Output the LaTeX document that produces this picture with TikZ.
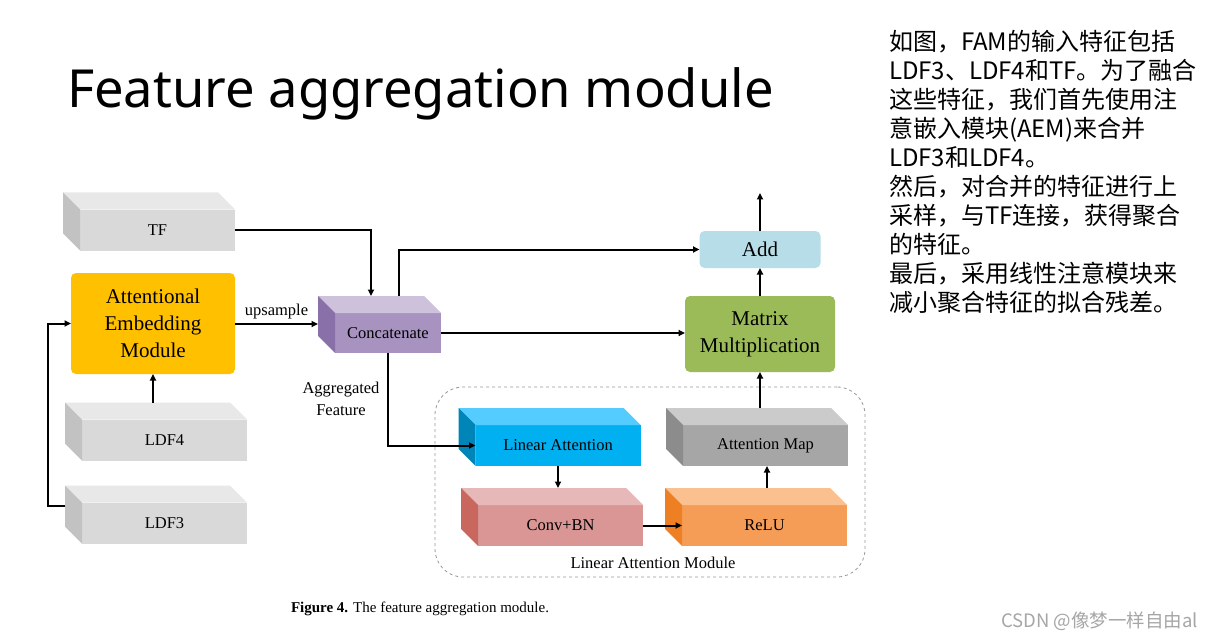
\documentclass[tikz,border=0pt]{standalone}
\usepackage{fontspec}
\setmainfont{Liberation Serif}
\newfontfamily\cjk{Noto Sans CJK SC}
\newfontfamily\titlefont{Noto Sans}
\usetikzlibrary{arrows.meta}

\definecolor{greyf}{HTML}{D9D9D9}
\definecolor{greyt}{HTML}{E8E8E8}
\definecolor{greys}{HTML}{C2C2C2}
\definecolor{aemc}{HTML}{FFC000}
\definecolor{catf}{HTML}{A792C0}
\definecolor{catt}{HTML}{CDC1DB}
\definecolor{cats}{HTML}{8A70A8}
\definecolor{addc}{HTML}{B7DEE8}
\definecolor{mmc}{HTML}{9BBB59}
\definecolor{laf}{HTML}{00B0F0}
\definecolor{lat}{HTML}{55CCFF}
\definecolor{las}{HTML}{0085B8}
\definecolor{amf}{HTML}{A6A6A6}
\definecolor{amt}{HTML}{CBCBCB}
\definecolor{ams}{HTML}{8C8C8C}
\definecolor{cbf}{HTML}{D99694}
\definecolor{cbt}{HTML}{E6B9B8}
\definecolor{cbs}{HTML}{C9675F}
\definecolor{ref}{HTML}{F59D56}
\definecolor{ret}{HTML}{FAC090}
\definecolor{res}{HTML}{EE7F22}

% top and left faces of a box node
\newcommand{\boxfaces}[3]{%
  \fill[#2] (#1.north west) -- ([shift={(-17,-17)}]#1.north west) -- ([shift={(-17,-17)}]#1.north east) -- (#1.north east) -- cycle;
  \fill[#3] (#1.north west) -- ([shift={(-17,-17)}]#1.north west) -- ([shift={(-17,-17)}]#1.south west) -- (#1.south west) -- cycle;
}

\begin{document}
\begin{tikzpicture}[x=1pt, y=-1pt,
		every node/.style={inner sep=0pt, outer sep=0pt},
		slab/.style={fill=#1, minimum width=165pt, minimum height=41pt, font=\fontsize{16.5}{18}\selectfont},
		panel/.style={fill=#1, rounded corners=5pt, align=center, font=\fontsize{21}{27}\selectfont},
		small/.style={font=\fontsize{16.5}{22}\selectfont, align=center},
		arr/.style={-{Triangle[length=6.5pt,width=6pt]}, line width=2pt}
		]
		\fill[white] (0,0) rectangle (1212,639);
		\useasboundingbox (0,0) rectangle (1212,639);
		
		\node[anchor=base west, font=\titlefont\fontsize{52.5}{60}\selectfont] (title) at (67,108) {Feature aggregation module};
		
		% inputs
		\node[slab=greyf, minimum width=155pt] (tf) at (157.5,230) {TF};
		\node[slab=greyf] (ldf4) at (164.5,440) {LDF4};
		\node[slab=greyf] (ldf3) at (164.5,523) {LDF3};
		\node[panel=aemc, minimum width=164pt, minimum height=101pt] (aem) at (153,323.5) {Attentional\\Embedding\\Module};
		\node[slab=catf, minimum width=106pt, minimum height=40pt] (concat) at (388,333) {Concatenate};
		\node[panel=addc, minimum width=121pt, minimum height=37pt] (add) at (760,249.5) {Add};
		\node[panel=mmc, minimum width=150pt, minimum height=76pt] (mm) at (760,334) {Matrix\\Multiplication};
		
		% linear attention module
		\node[draw=gray!80, dashed, line width=0.8pt, rounded corners=28pt, minimum width=430pt, minimum height=190pt] (lam) at (650,482) {};
		\node[slab=laf] (linatt) at (558,445.5) {Linear Attention};
		\node[slab=amf] (attmap) at (765.5,445.5) {Attention Map};
		\node[slab=cbf] (convbn) at (560.5,525.5) {Conv+BN};
		\node[slab=ref] (relu) at (764.5,525.5) {ReLU};
		\node[small] (lamlabel) at (653,563) {Linear Attention Module};
		
		\boxfaces{tf}{greyt}{greys}
		\boxfaces{ldf4}{greyt}{greys}
		\boxfaces{ldf3}{greyt}{greys}
		\boxfaces{concat}{catt}{cats}
		\boxfaces{linatt}{lat}{las}
		\boxfaces{attmap}{amt}{ams}
		\boxfaces{convbn}{cbt}{cbs}
		\boxfaces{relu}{ret}{res}
		
		\coordinate (catback) at ([xshift=-17pt]concat.west);
		\coordinate (relutop) at ([shift={(2.5,-17)}]relu.north);
		\coordinate (out) at ([yshift=38pt]add.north);
		
		\draw[arr] (tf.east) -| ([shift={(-17,-17)}]concat.north);
		\draw[arr] (aem.east |- 0,324) -- node[small, above=5pt] {upsample} (catback |- 0,324);
		\draw[arr] ([shift={(-11.5,-17)}]ldf4.north) -- (aem.south);
		\draw[arr] ([shift={(-17,-17)}]ldf3.west) -- ++(-17,0) |- (aem.west);
		\draw[arr] ([shift={(11,-17)}]concat.north) |- (add.west);
		\draw[arr] (concat.east) -- (concat.east -| mm.west);
		\draw[arr] (concat.south) |- (linatt.west);
		\node[small] (aggr) at (341,399) {Aggregated\\Feature};
		\draw[arr] (linatt.south) -- ([shift={(-2.5,-17)}]convbn.north);
		\draw[arr] (convbn.east) -- (relu.west);
		\draw[arr] (relutop) -- (relutop |- attmap.south);
		\draw[arr] ([shift={(-5.5,-17)}]attmap.north) -- (mm.south);
		\draw[arr] (mm.north) -- (add.south);
		\draw[arr] (add.north) -- (out);
		
		\node[anchor=base west, font=\fontsize{15}{17}\selectfont] (caption) at (291,612) {\textbf{Figure 4.} The feature aggregation module.};
		
		% notes
		\node[anchor=north west, align=left, font=\cjk\fontsize{24}{29}\selectfont] (notes) at (889,30) {如图，FAM的输入特征包括\\LDF3、LDF4和TF。为了融合\\这些特征，我们首先使用注\\意嵌入模块(AEM)来合并\\LDF3和LDF4。\\然后，对合并的特征进行上\\采样，与TF连接，获得聚合\\的特征。\\最后，采用线性注意模块来\\减小聚合特征的拟合残差。};
		\node[anchor=base east, text=gray!70, font=\cjk\fontsize{18.5}{20}\selectfont] (mark) at (1198,627) {CSDN @像梦一样自由al};
	\end{tikzpicture}
\end{document}
